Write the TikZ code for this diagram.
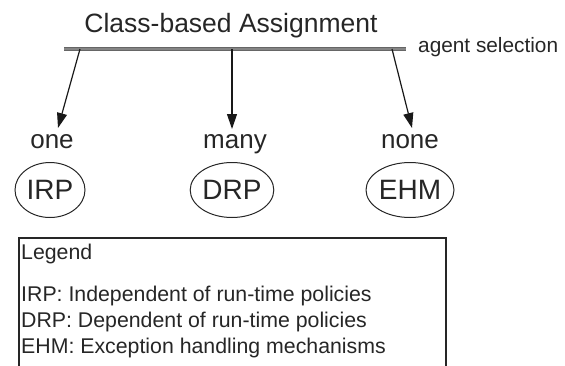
\documentclass[tikz,border=0pt]{standalone}
\usepackage{fontspec}
\setmainfont{Liberation Sans}
\usetikzlibrary{arrows.meta,shapes.geometric}
\begin{document}
\begin{tikzpicture}[x=1pt,y=-1pt,
  txt/.style={inner sep=0pt, text=black!85},
  title/.style={txt, anchor=base, font=\fontsize{26.5}{30}\selectfont},
  card/.style={txt, anchor=base, font=\fontsize{26}{30}\selectfont},
  abbr/.style={ellipse, draw=black!85, line width=1pt, minimum width=70pt,
    minimum height=55pt, inner sep=0pt, text=black!85,
    font=\fontsize{28}{30}\selectfont},
  legline/.style={txt, anchor=west, font=\fontsize{21.3}{25}\selectfont},
  pointer/.style={-{Triangle[width=10pt,length=15pt]}, line width=1.2pt, draw=black!90},
  bar/.style={draw=black!60, line width=3.8pt},
  barcore/.style={draw=black!48, line width=1.6pt}
]
\useasboundingbox (0,0) rectangle (565,365);

% heading and the selection bar
\node[title] (head) at (231,32) {Class-based Assignment};
\coordinate (barL) at (64,49);
\coordinate (barR) at (406,49);
\draw[bar] (barL) -- (barR);
\draw[barcore] (barL) -- (barR);
\node[txt, anchor=west, font=\fontsize{20.8}{24}\selectfont] (sel) at (418,47) {agent selection};

% branch points on the bar and arrow ends
\coordinate (s1) at (80,49);
\coordinate (s2) at (232,49);
\coordinate (s3) at (392,49);
\coordinate (t1) at (58,128);
\coordinate (t2) at (232,129);
\coordinate (t3) at (412,128);
\draw[pointer] (s1) -- (t1);
\draw[pointer] (s2) -- (t2);
\draw[pointer] (s3) -- (t3);

% cardinalities
\node[card] (one) at (52,148) {one};
\node[card] (many) at (235,148) {many};
\node[card] (none) at (410,148) {none};

% assignment kinds
\node[abbr] (irp) at (50,190) {IRP};
\node[abbr] (drp) at (232,190) {DRP};
\node[abbr] (ehm) at (410,190) {EHM};

% legend box, open below the page edge
\draw[line width=1.2pt, draw=black!85] (19,380) |- (446,238) -- (446,380);
\node[legline] (lg0) at (21,254) {Legend};
\node[legline] (lg1) at (21,296) {IRP: Independent of run-time policies};
\node[legline] (lg2) at (21,322) {DRP: Dependent of run-time policies};
\node[legline] (lg3) at (21,348) {EHM: Exception handling mechanisms};
\end{tikzpicture}
\end{document}
